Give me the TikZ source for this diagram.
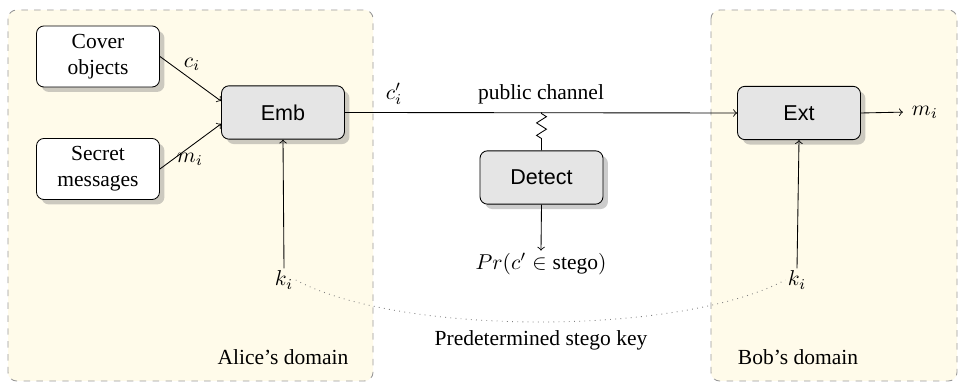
\documentclass[tikz,border=0pt]{standalone}
\usepackage{fontspec}
\setmainfont{Liberation Serif}
\setsansfont{Liberation Sans}
\usetikzlibrary{shadows,decorations.pathmorphing}
\definecolor{domainfill}{RGB}{255,251,234}
\begin{document}
\begin{tikzpicture}[x=0.465pt,y=-0.465pt,
  realm/.style={draw=gray!80, dashed, rounded corners=4pt, fill=domainfill},
  inbox/.style={draw, rounded corners=3.5pt, fill=white, drop shadow={opacity=0.4},
    minimum width=57.2pt, minimum height=28.4pt, align=center, inner sep=1pt},
  procbox/.style={draw, rounded corners=3.5pt, fill=gray!20, drop shadow={opacity=0.4},
    minimum width=57.2pt, minimum height=24.8pt, font=\sffamily},
  lbl/.style={inner sep=1pt},
  flow/.style={->, line width=0.4pt}]
\useasboundingbox (0,0) rectangle (963,388);
\fill[white] (0,0) rectangle (963,388);

% sender and receiver domains
\draw[realm] (8,10) rectangle (373,381);
\draw[realm] (711,10) rectangle (957,381);

% blocks
\node[inbox]   (cover)  at (98,56.5)   {Cover\\objects};
\node[inbox]   (secret) at (98,169)    {Secret\\messages};
\node[procbox] (emb)    at (283,112.5) {Emb};
\node[procbox] (ext)    at (799,113)   {Ext};
\node[procbox] (detect) at (541.5,177.5) {Detect};

% labels
\node[lbl] (ci)     at (192,64)  {$c_i$};
\node[lbl] (mi)     at (190,159) {$m_i$};
\node[lbl] (cpi)    at (394,94)  {$c_i'$};
\node[lbl] (pub)    at (541,94)  {public channel};
\node[lbl] (mout)   at (925,112) {$m_i$};
\node[lbl] (pr)     at (541,264) {$Pr(c'\in\mbox{stego})$};
\node[lbl] (kA)     at (284,280) {$k_i$};
\node[lbl] (kB)     at (797,280) {$k_i$};
\node[lbl] (keytxt) at (541,340) {Predetermined stego key};
\node[lbl] (alice)  at (283,357) {Alice's domain};
\node[lbl] (bob)    at (798,357) {Bob's domain};

% connectors
\draw[flow] (cover.east) -- ([yshift=5.3pt]emb.west);
\draw[flow] (secret.east) -- ([yshift=-5.3pt]emb.west);
\draw[flow] (emb.east) -- (ext.west);
\coordinate (tap) at (emb.east -| detect.north);
\draw[decorate, decoration={zigzag, segment length=5.8pt, amplitude=2.3pt,
  pre length=0.5pt, post length=5.5pt}] (tap) -- (detect.north);
\draw[flow] (detect.south) -- (pr.north);
\draw[flow, shorten >=3pt] (ext.east) -- (mout.west);
\draw[flow] (kA.north) -- (emb.south);
\draw[flow] (kB.north) -- (ext.south);
\draw[dotted, gray] (kA.east) .. controls (400,336) and (680,336) .. (kB.west);
\end{tikzpicture}
\end{document}
